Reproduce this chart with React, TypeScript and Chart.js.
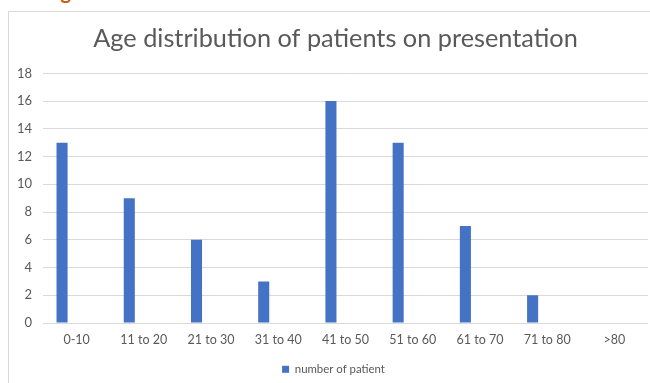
import React, { useEffect, useRef } from "react";
import { Chart, registerables } from "chart.js";

Chart.register(...registerables);

const categories = ["0-10", "11 to 20", "21 to 30", "31 to 40", "41 to 50", "51 to 60", "61 to 70", "71 to 80", ">80"];
const patients = [13, 9, 6, 3, 16, 13, 7, 2, 0];
const emptySeries = [null, null, null, null, null, null, null, null, null];
const yTicks = [0, 2, 4, 6, 8, 10, 12, 14, 16, 18];
const seriesLabel = "number of patient";
const titleText = "Age distribution of patients on presentation";

const FONT = "Lato, 'Open Sans', sans-serif";
const GREY = "#595959";

const shiftBlocks = {
  id: "shiftBlocks",
  afterLayout(chart: any) {
    if (chart.titleBlock) chart.titleBlock.left += 14;
    if (chart.legend) chart.legend.left += 10;
  },
};

export default function App() {
  const ref = useRef<HTMLCanvasElement | null>(null);

  useEffect(() => {
    if (!ref.current) return;
    const chart = new Chart(ref.current, {
      type: "bar",
      data: {
        labels: categories,
        datasets: [
          {
            label: seriesLabel,
            data: patients,
            backgroundColor: "#4472C4",
            borderWidth: 0,
            categoryPercentage: 0.866,
            barPercentage: 0.38,
          },
          {
            label: "",
            data: emptySeries as any,
            backgroundColor: "rgba(0,0,0,0)",
            borderWidth: 0,
            categoryPercentage: 0.866,
            barPercentage: 0.38,
          },
        ],
      },
      plugins: [shiftBlocks],
      options: {
        responsive: false,
        animation: false,
        maintainAspectRatio: false,
        layout: { padding: { left: 0, right: 2, top: 0, bottom: 0 } },
        plugins: {
          title: {
            display: true,
            text: titleText,
            color: GREY,
            font: { family: FONT, size: 25.3, weight: "normal" },
            padding: { top: 12, bottom: 19 },
          },
          legend: {
            position: "bottom",
            labels: {
              boxWidth: 7,
              boxHeight: 7,
              color: GREY,
              font: { family: FONT, size: 11.4 },
              padding: 6.6,
              filter: (item: any) => item.text === seriesLabel,
            },
          },
          tooltip: { enabled: false },
        },
        scales: {
          x: {
            grid: { display: false, drawTicks: false },
            border: { display: false },
            ticks: { color: GREY, font: { family: FONT, size: 12.5 }, padding: 9.5, maxRotation: 0, autoSkip: false },
          },
          y: {
            min: 0,
            max: 18,
            afterFit: (scale: any) => {
              scale.width = 34;
            },
            afterBuildTicks: (scale: any) => {
              scale.ticks = yTicks.map((v) => ({ value: v }));
            },
            grid: { color: "#d9d9d9", drawTicks: false },
            border: { display: false },
            ticks: { color: GREY, font: { family: FONT, size: 13 }, padding: 11 },
          },
        },
      },
    });
    return () => chart.destroy();
  }, []);

  return (
    <div>
      <div
        style={{
          position: "absolute",
          left: 44,
          top: -19,
          fontFamily: FONT,
          fontWeight: "bold",
          fontSize: 20,
          lineHeight: "20px",
          color: "#C55A11",
        }}
      >
        Fig
      </div>
      <div
        style={{
          position: "absolute",
          left: 8,
          top: 11,
          width: 642,
          height: 372,
          overflow: "hidden",
          boxSizing: "border-box",
          borderTop: "1px solid #d9d9d9",
          borderLeft: "1px solid #d9d9d9",
          background: "#fff",
        }}
      >
        <canvas ref={ref} width={641} height={373} style={{ display: "block" }} />
      </div>
    </div>
  );
}
